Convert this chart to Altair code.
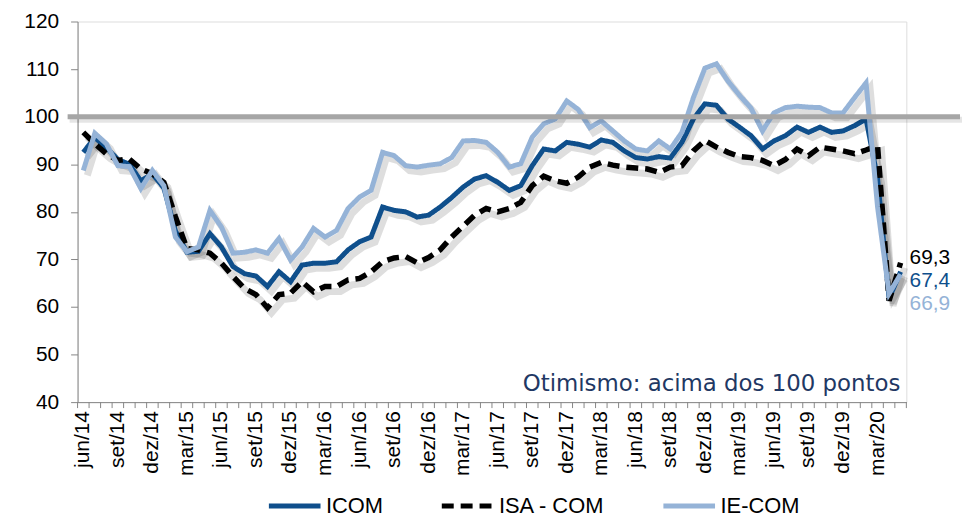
import altair as alt
import pandas as pd

months = [
    "jun/14", "jul/14", "ago/14", "set/14", "out/14", "nov/14", "dez/14",
    "jan/15", "fev/15", "mar/15", "abr/15", "mai/15", "jun/15", "jul/15", "ago/15", "set/15", "out/15", "nov/15", "dez/15",
    "jan/16", "fev/16", "mar/16", "abr/16", "mai/16", "jun/16", "jul/16", "ago/16", "set/16", "out/16", "nov/16", "dez/16",
    "jan/17", "fev/17", "mar/17", "abr/17", "mai/17", "jun/17", "jul/17", "ago/17", "set/17", "out/17", "nov/17", "dez/17",
    "jan/18", "fev/18", "mar/18", "abr/18", "mai/18", "jun/18", "jul/18", "ago/18", "set/18", "out/18", "nov/18", "dez/18",
    "jan/19", "fev/19", "mar/19", "abr/19", "mai/19", "jun/19", "jul/19", "ago/19", "set/19", "out/19", "nov/19", "dez/19",
    "jan/20", "fev/20", "mar/20", "abr/20", "mai/20",
]

icom = [
    92.5, 95.6, 93.5, 91.0, 90.0, 86.5, 88.0, 85.0, 76.0, 71.5, 71.7, 75.4,
    72.6, 68.5, 67.0, 66.5, 64.3, 67.4, 65.3, 68.8, 69.2, 69.2, 69.5, 72.0,
    73.7, 74.7, 81.0, 80.3, 80.0, 78.9, 79.3, 81.0, 83.0, 85.2, 86.9, 87.6,
    86.2, 84.5, 85.5, 89.7, 93.2, 92.8, 94.6, 94.2, 93.6, 95.1, 94.6, 92.8,
    91.4, 91.1, 91.6, 91.3, 94.6, 99.5, 102.7, 102.4, 99.5, 97.8, 96.0, 93.2,
    94.9, 96.0, 97.8, 96.7, 97.8, 96.7, 97.0, 98.1, 99.5, 87.0, 61.8, 67.4,
]

isa = [
    96.7, 94.3, 92.2, 90.8, 91.1, 89.0, 88.0, 86.2, 79.0, 72.3, 72.0, 71.3,
    69.2, 66.4, 63.9, 62.6, 59.8, 62.6, 62.9, 65.3, 63.2, 64.3, 64.3, 65.7,
    66.0, 67.4, 69.5, 70.3, 70.6, 69.3, 70.4, 72.0, 74.7, 77.0, 79.3, 80.7,
    80.0, 80.7, 82.0, 85.5, 87.5, 86.5, 86.0, 87.3, 89.4, 90.4, 89.8, 89.4,
    89.2, 89.0, 88.3, 89.4, 89.7, 92.8, 95.0, 93.6, 92.5, 91.6, 91.4, 90.8,
    89.7, 91.0, 93.2, 91.8, 93.6, 93.2, 92.8, 92.2, 93.0, 93.9, 61.3, 69.3,
]

ie = [
    88.7, 96.5, 94.3, 89.7, 89.5, 84.9, 88.7, 85.5, 74.7, 71.6, 72.6, 80.3,
    76.8, 71.3, 71.5, 72.0, 71.3, 74.4, 69.9, 72.6, 76.5, 74.7, 76.1, 80.7,
    83.1, 84.5, 92.5, 91.8, 89.7, 89.4, 89.8, 90.1, 91.4, 94.9, 95.0, 94.6,
    92.5, 89.4, 90.1, 95.7, 98.5, 99.5, 103.3, 101.5, 97.7, 99.1, 97.0, 94.9,
    93.2, 92.8, 94.9, 93.2, 96.7, 104.0, 110.2, 111.1, 107.5, 104.5, 101.8, 97.0,
    100.8, 101.9, 102.2, 102.0, 101.9, 100.8, 100.8, 104.0, 107.1, 81.0, 62.8, 66.9,
]

series_names = ["ICOM", "ISA - COM", "IE-COM"]
series_colors = ["#0F4F8C", "#000000", "#95B3D7"]
series_dashes = [[1, 0], [12, 7], [1, 0]]
end_labels = ["67,4", "69,3", "66,9"]
reference_level = [100]
note_text = "Otimismo: acima dos 100 pontos"

rows = []
for name, vals in zip(series_names, [icom, isa, ie]):
    for i, (m, v) in enumerate(zip(months, vals)):
        rows.append({"series": name, "month": m, "pos": i + 0.5, "value": v})
df = pd.DataFrame(rows)

last = pd.DataFrame({
    "series": series_names,
    "pos": [len(months) - 0.5] * 3,
    "value": [icom[-1], isa[-1], ie[-1]],
    "label": end_labels,
})

# category boundaries (minor ticks) and labelled categories (every 3 months)
bounds = pd.DataFrame({"b": list(range(0, len(months) + 1))})
label_idx = list(range(0, len(months), 3))
month_labels = pd.DataFrame({"p": [i + 0.5 for i in label_idx], "m": [months[i] for i in label_idx]})

W, H = 834, 383
FONT = "Liberation Sans, Arial, sans-serif"
AXIS_GRAY = "#868686"

x_scale = alt.Scale(domain=[0, len(months)], nice=False, zero=False)
x_enc = alt.X(
    "pos:Q",
    scale=x_scale,
    axis=alt.Axis(labels=False, ticks=False, domainColor=AXIS_GRAY, grid=False, title=None),
)

y_enc = alt.Y(
    "value:Q",
    scale=alt.Scale(domain=[40, 120], nice=False, zero=False),
    axis=alt.Axis(
        values=list(range(40, 121, 10)),
        labelFontSize=21,
        labelFont=FONT,
        labelColor="#000000",
        labelPadding=12,
        tickSize=7,
        tickColor=AXIS_GRAY,
        domainColor=AXIS_GRAY,
        grid=False,
        title=None,
    ),
)

legend = alt.Legend(
    title=None,
    orient="none",
    legendX=190,
    legendY=459,
    direction="horizontal",
    symbolType="stroke",
    symbolSize=2700,
    symbolStrokeWidth=5,
    labelFontSize=22,
    labelFont=FONT,
    labelColor="#000000",
    labelOffset=3,
    columnPadding=48,
    gridAlign="none",
    padding=0,
)
color_enc = alt.Color("series:N", scale=alt.Scale(domain=series_names, range=series_colors), legend=legend)
dash_enc = alt.StrokeDash("series:N", scale=alt.Scale(domain=series_names, range=series_dashes), legend=legend)

base = alt.Chart(df)

shadow = base.mark_line(
    color="#000000", strokeOpacity=0.13, strokeWidth=7, xOffset=4, yOffset=5
).encode(x=alt.X("pos:Q", scale=x_scale), y=alt.Y("value:Q"), detail="series:N")

minor_ticks = alt.Chart(bounds).mark_rule(color=AXIS_GRAY, strokeWidth=1).encode(
    x=alt.X("b:Q", scale=x_scale), y=alt.value(H), y2=alt.value(H + 6)
)

x_labels = alt.Chart(month_labels).mark_text(
    angle=270, align="right", baseline="middle", fontSize=21, font=FONT, color="#000000"
).encode(x=alt.X("p:Q", scale=x_scale), y=alt.value(H + 9), text="m:N")

layers = [shadow]
for name in series_names:
    layers.append(
        base.transform_filter(alt.datum.series == name)
        .mark_line(strokeWidth=5.5 if name == "ISA - COM" else 5)
        .encode(x=x_enc, y=y_enc, color=color_enc, strokeDash=dash_enc)
    )

ref_df = pd.DataFrame({"value": reference_level})
ref_shadow = alt.Chart(ref_df).mark_rule(
    color="#000000", strokeOpacity=0.10, strokeWidth=6, yOffset=3
).encode(y=alt.Y("value:Q"), x=alt.value(-8), x2=alt.value(890))
ref_line = alt.Chart(ref_df).mark_rule(color="#A6A6A6", strokeWidth=5).encode(
    y=alt.Y("value:Q"), x=alt.value(-10), x2=alt.value(888)
)

dys = {"ICOM": 9, "ISA - COM": -5, "IE-COM": 30}
label_layers = []
for name, col in zip(series_names, series_colors):
    label_layers.append(
        alt.Chart(last)
        .transform_filter(alt.datum.series == name)
        .mark_text(align="left", baseline="middle", dx=9, dy=dys[name],
                   fontSize=21, font=FONT, color=col)
        .encode(x="pos:Q", y="value:Q", text="label:N")
    )

note = alt.Chart(pd.DataFrame({"t": [note_text]})).mark_text(
    align="right", baseline="alphabetic", fontSize=23,
    font="DejaVu Sans, sans-serif", color="#1F3864",
).encode(x=alt.value(828), y=alt.value(372), text="t:N")

chart = alt.layer(
    minor_ticks, x_labels, *layers, ref_shadow, ref_line, *label_layers, note
).properties(
    width=W,
    height=H,
    autosize=alt.AutoSizeParams(type="none"),
    padding={"left": 70, "top": 12, "right": 57, "bottom": 114},
).configure_view(stroke=None).configure(background="white")

chart.save("out.html", embed_options={"renderer": "svg", "actions": False})
